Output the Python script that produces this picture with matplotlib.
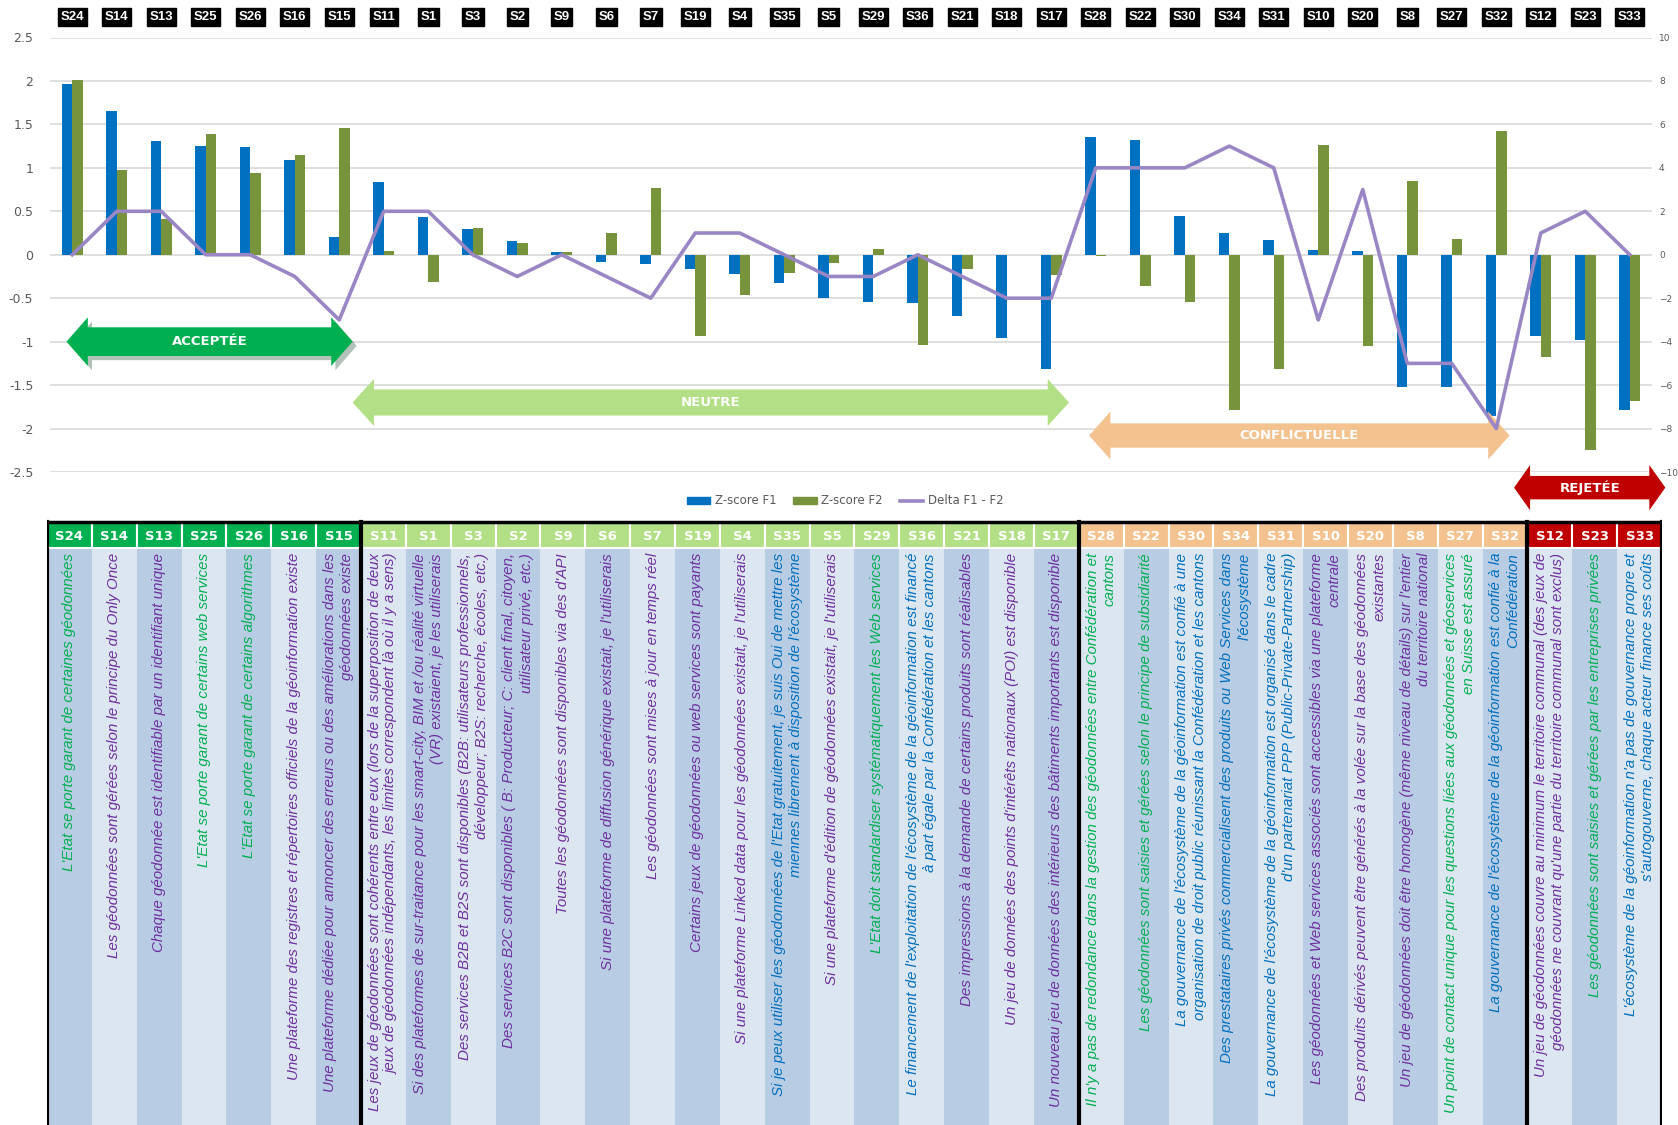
import matplotlib
matplotlib.use('Agg')
import matplotlib.pyplot as plt
import matplotlib.patheffects as pe
from matplotlib.patches import Polygon, Rectangle, Patch
from matplotlib.lines import Line2D

# Statements in ranking order, with their two z-scores and the rank delta
labels = ['S24', 'S14', 'S13', 'S25', 'S26', 'S16', 'S15',
          'S11', 'S1', 'S3', 'S2', 'S9', 'S6', 'S7', 'S19', 'S4', 'S35', 'S5', 'S29', 'S36', 'S21', 'S18', 'S17',
          'S28', 'S22', 'S30', 'S34', 'S31', 'S10', 'S20', 'S8', 'S27', 'S32',
          'S12', 'S23', 'S33']
zscore_f1 = [1.96, 1.65, 1.31, 1.25, 1.24, 1.09, 0.21,
             0.84, 0.44, 0.30, 0.16, 0.03, -0.08, -0.11, -0.16, -0.22, -0.33, -0.50, -0.54, -0.56, -0.71, -0.96, -1.31,
             1.36, 1.32, 0.45, 0.25, 0.17, 0.06, 0.04, -1.52, -1.52, -1.85,
             -0.93, -0.98, -1.79]
zscore_f2 = [2.01, 0.98, 0.41, 1.39, 0.94, 1.15, 1.46,
             0.04, -0.31, 0.31, 0.14, 0.03, 0.25, 0.77, -0.94, -0.46, -0.21, -0.09, 0.07, -1.04, -0.16, 0.0, -0.23,
             -0.02, -0.36, -0.54, -1.79, -1.32, 1.26, -1.05, 0.85, 0.18, 1.42,
             -1.18, -2.25, -1.68]
delta_f1_f2 = [0, 2, 2, 0, 0, -1, -3,
               2, 2, 0, -1, 0, -1, -2, 1, 1, 0, -1, -1, 0, -1, -2, -2,
               4, 4, 4, 5, 4, -3, 3, -5, -5, -8,
               1, 2, 0]

group_names = ['ACCEPTÉE', 'NEUTRE', 'CONFLICTUELLE', 'REJETÉE']
group_sizes = [7, 16, 10, 3]

statements = [
    "L'Etat se porte garant de certaines géodonnées",
    "Les géodonnées sont gérées selon le principe du Only Once",
    "Chaque géodonnée est identifiable par un identifiant unique",
    "L'Etat se porte garant de certains web services",
    "L'Etat se porte garant de certains algorithmes",
    "Une plateforme des registres et répertoires officiels de la géoinformation existe",
    "Une plateforme dédiée pour annoncer des erreurs ou des améliorations dans les\ngéodonnées existe",
    "Les jeux de géodonnées sont cohérents entre eux (lors de la superposition de deux\njeux de géodonnées indépendants, les limites correspondent là où il y a sens)",
    "Si des plateformes de sur-traitance pour les smart-city, BIM et /ou réalité virtuelle\n(VR) existaient, je les utiliserais",
    "Des services B2B et B2S sont disponibles (B2B: utilisateurs professionnels,\ndéveloppeur; B2S: recherche, écoles, etc.)",
    "Des services B2C sont disponibles ( B: Producteur; C: client final, citoyen,\nutilisateur privé, etc.)",
    "Toutes les géodonnées sont disponibles via des d'API",
    "Si une plateforme de diffusion générique existait, je l'utiliserais",
    "Les géodonnées sont mises à jour en temps réel",
    "Certains jeux de géodonnées ou web services sont payants",
    "Si une plateforme Linked data pour les géodonnées existait, je l'utiliserais",
    "Si je peux utiliser les géodonnées de l'Etat gratuitement, je suis Oui de mettre les\nmiennes librement à disposition de l'écosystème",
    "Si une plateforme d'édition de géodonnées existait, je l'utiliserais",
    "L'Etat doit standardiser systématiquement les Web services",
    "Le financement de l'exploitation de l'écosystème de la géoinformation est financé\nà part égale par la Confédération et les cantons",
    "Des impressions à la demande de certains produits sont réalisables",
    "Un jeu de données des points d'intérêts nationaux (POI) est disponible",
    "Un nouveau jeu de données des intérieurs des bâtiments importants est disponible",
    "Il n'y a pas de redondance dans la gestion des géodonnées entre Confédération et\ncantons",
    "Les géodonnées sont saisies et gérées selon le principe de subsidiarité",
    "La gouvernance de l'écosystème de la géoinformation est confié à une\norganisation de droit public réunissant la Confédération et les cantons",
    "Des prestataires privés commercialisent des produits ou Web Services dans\nl'écosystème",
    "La gouvernance de l'écosystème de la géoinformation est organisé dans le cadre\nd'un partenariat PPP (Public-Private-Partnership)",
    "Les géodonnées et Web services associés sont accessibles via une plateforme\ncentrale",
    "Des produits dérivés peuvent être générés à la volée sur la base des géodonnées\nexistantes",
    "Un jeu de géodonnées doit être homogène (même niveau de détails) sur l'entier\ndu territoire national",
    "Un point de contact unique pour les questions liées aux géodonnées et géoservices\nen Suisse est assuré",
    "La gouvernance de l'écosystème de la géoinformation est confié à la\nConfédération",
    "Un jeu de géodonnées couvre au minimum le territoire communal (des jeux de\ngéodonnées ne couvrant qu'une partie du territoire communal sont exclus)",
    "Les géodonnées sont saisies et gérées par les entreprises privées",
    "L'écosystème de la géoinformation n'a pas de gouvernance propre et\ns'autogouverne, chaque acteur finance ses coûts",
]
# g = green, p = purple, b = blue
statement_tone = ['g', 'p', 'p', 'g', 'g', 'p', 'p',
                  'p', 'p', 'p', 'p', 'p', 'p', 'p', 'p', 'p', 'b', 'p', 'g', 'b', 'p', 'p', 'p',
                  'g', 'g', 'b', 'b', 'b', 'p', 'p', 'p', 'g', 'b',
                  'p', 'g', 'b']

# ---- styling ----
W, H = 1678, 1125
BLUE, OLIVE, LAVENDER = '#0070C0', '#77933C', '#9A86C4'
tone_colors = {'g': '#00B050', 'p': '#7030A0', 'b': '#0070C0'}
group_colors = ['#00B050', '#B3DF86', '#F4C28F', '#C00000']
# arrow placement: (x start, x end, y centre, shaft, head, head length)
arrow_geom = [(-0.13, 6.30, -1.00, 0.33, 0.56, 0.48),
              (6.30, 22.40, -1.70, 0.30, 0.54, 0.48),
              (22.85, 32.30, -2.08, 0.28, 0.55, 0.48),
              (32.40, 35.80, -2.68, 0.27, 0.52, 0.36)]
narrow = ['Liberation Sans', 'DejaVu Sans']

fig = plt.figure(figsize=(W / 100, H / 100), dpi=100)


def px_axes(x0, y0, x1, y1):
    return fig.add_axes([x0 / W, 1 - y1 / H, (x1 - x0) / W, (y1 - y0) / H])


# ---- chart ----
ax = px_axes(50, 37.5, 1652, 472)
x = list(range(len(labels)))
bw = 0.24
ax.bar([i - bw / 2 for i in x], zscore_f1, width=bw, color=BLUE, zorder=2)
ax.bar([i + bw / 2 for i in x], zscore_f2, width=bw, color=OLIVE, zorder=2)
ax.set_xlim(-0.5, len(labels) - 0.5)
ax.set_ylim(-2.5, 2.5)
ax.set_yticks([-2.5, -2, -1.5, -1, -0.5, 0, 0.5, 1, 1.5, 2, 2.5])
ax.set_yticklabels(['-2.5', '-2', '-1.5', '-1', '-0.5', '0', '0.5', '1', '1.5', '2', '2.5'])
ax.set_xticks([])
ax.grid(axis='y', color='#D9D9D9', lw=1.2, zorder=0)
ax.set_axisbelow(True)
for s in ax.spines.values():
    s.set_visible(False)
ax.tick_params(axis='y', length=0, pad=12, labelsize=9, labelcolor='#595959')

ax2 = ax.twinx()
ax2.plot(x, delta_f1_f2, color=LAVENDER, lw=2.6, zorder=5)
ax2.set_ylim(-10, 10)
ax2.set_yticks(range(-10, 11, 2))
for s in ax2.spines.values():
    s.set_visible(False)
ax2.tick_params(axis='y', length=0, pad=5, labelsize=6.5, labelcolor='#595959')

# statement ids above the plot
for i, lbl in enumerate(labels):
    ax.text(i, 1.047, lbl, transform=ax.get_xaxis_transform(), ha='center', va='center',
            color='white', fontsize=9.5, fontweight='bold', family=narrow,
            bbox=dict(boxstyle='square,pad=0.2', fc='black', ec='black'))

# category arrows
for name, color, (x0, x1, yc, shaft, head, hl) in zip(group_names, group_colors, arrow_geom):
    pts = [(x0, yc), (x0 + hl, yc + head / 2), (x0 + hl, yc + shaft / 2),
           (x1 - hl, yc + shaft / 2), (x1 - hl, yc + head / 2), (x1, yc),
           (x1 - hl, yc - head / 2), (x1 - hl, yc - shaft / 2),
           (x0 + hl, yc - shaft / 2), (x0 + hl, yc - head / 2)]
    poly = Polygon(pts, closed=True, fc=color, ec='none', zorder=4, clip_on=False)
    if name == 'ACCEPTÉE':
        poly.set_path_effects([pe.SimplePatchShadow(offset=(3, -3), alpha=0.3), pe.Normal()])
    ax.add_patch(poly)
    ax.text((x0 + x1) / 2, yc, name, ha='center', va='center', color='white',
            fontsize=9.5, fontweight='bold', zorder=6, clip_on=False)

handles = [Patch(color=BLUE, label='Z-score F1'),
           Patch(color=OLIVE, label='Z-score F2'),
           Line2D([], [], color=LAVENDER, lw=2.6, label='Delta F1 - F2')]
fig.legend(handles=handles, loc='center', bbox_to_anchor=(845 / W, 1 - 501 / H), ncol=3,
           frameon=False, fontsize=8.5, labelcolor='#595959', handlelength=2.0,
           handleheight=0.5, columnspacing=1.4, handletextpad=0.4)

# ---- statement table ----
tax = px_axes(47, 518, 1662, 1125)
tax.set_xlim(-0.5, len(labels) - 0.5)
tax.set_ylim(1125, 518)
tax.axis('off')

head_top, head_bot, body_bot = 522, 548, 1125
col_group = []
for gi, n in enumerate(group_sizes):
    col_group += [gi] * n

for i, lbl in enumerate(labels):
    tax.add_patch(Rectangle((i - 0.5, head_top), 1, head_bot - head_top,
                            fc=group_colors[col_group[i]], ec='white', lw=1.5))
    tax.text(i, (head_top + head_bot) / 2 + 1, lbl, ha='center', va='center', color='white',
             fontsize=9.5, fontweight='bold')
    body_fc = '#B8CCE4' if i % 2 == 0 else '#DCE6F1'
    tax.add_patch(Rectangle((i - 0.5, head_bot + 1), 1, body_bot - head_bot, fc=body_fc, ec='none'))
    tax.text(i, head_bot + 5, statements[i], rotation=90, rotation_mode='anchor',
             ha='right', va='center', multialignment='right', linespacing=1.3,
             fontsize=10.9, style='italic', family=narrow,
             color=tone_colors[statement_tone[i]])

# group separators
tax.plot([-0.5, len(labels) - 0.5], [head_top, head_top], color='black', lw=2.5)
edge = -0.5
for n in [0] + group_sizes:
    edge += n
    tax.plot([edge, edge], [head_top, body_bot], color='black', lw=3)

fig.savefig('out.png', dpi=100)
